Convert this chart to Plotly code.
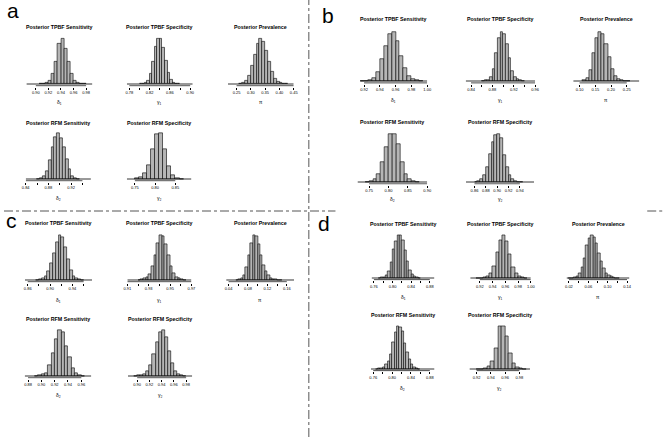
import plotly.graph_objects as go

FIG_W, FIG_H = 669, 437

# ---------------- DATA (relative bar heights) ----------------
TITLES = ["Posterior TPBF Sensitivity", "Posterior TPBF Specificity", "Posterior Prevalence",
          "Posterior RFM Sensitivity", "Posterior RFM Specificity"]
XLABELS = ["δ₁", "γ₁", "π", "δ₂", "γ₂"]

# Panel a
A_D1_COUNTS = [0.5, 1, 3, 8, 22, 50, 88, 100, 78, 48, 22, 8, 3, 1, 0.3]
A_D1_BINS = (0.885, 0.905, 0.005, 0.99)          # (first break, first listed bin, width, last break)
A_D1_TICKS = [0.90, 0.92, 0.94, 0.96, 0.98]
A_D1_MINOR = []

A_G1_COUNTS = [0.5, 1, 3, 8, 22, 50, 82, 100, 100, 80, 52, 24, 9, 3, 1, 0.3]
A_G1_BINS = (0.775, 0.800, 0.005, 0.905)
A_G1_TICKS = [0.78, 0.82, 0.86, 0.90]
A_G1_MINOR = [0.80, 0.84, 0.88]

A_PI_COUNTS = [1, 3, 8, 18, 40, 64, 88, 100, 94, 74, 50, 27, 12, 5, 2, 0.5, 0.2]
A_PI_BINS = (0.22, 0.26, 0.01, 0.45)
A_PI_TICKS = [0.25, 0.30, 0.35, 0.40, 0.45]
A_PI_MINOR = []

A_D2_COUNTS = [0.7, 2, 7, 18, 41, 70, 92, 100, 89, 70, 44, 22, 7, 2, 0.7]
A_D2_BINS = (0.84, 0.86, 0.005, 0.955)
A_D2_TICKS = [0.84, 0.88, 0.92]
A_D2_MINOR = [0.86, 0.90, 0.94]

A_G2_COUNTS = [2, 5, 12, 30, 65, 98, 100, 65, 27, 9, 2, 0.5]
A_G2_BINS = (0.73, 0.75, 0.01, 0.89)
A_G2_TICKS = [0.75, 0.80, 0.85]
A_G2_MINOR = []

# Panel b
B_D1_COUNTS = [0.2, 0.5, 2, 7, 19, 44, 71, 95, 100, 81, 51, 26, 10, 3, 1, 0.3]
B_D1_BINS = (0.915, 0.915, 0.005, 1.00)
B_D1_TICKS = [0.92, 0.94, 0.96, 0.98, 1.00]
B_D1_MINOR = []

B_G1_COUNTS = [0.3, 1, 2, 8, 24, 58, 88, 100, 95, 75, 46, 20, 8, 3, 1, 0.3]
B_G1_BINS = (0.83, 0.86, 0.005, 0.96)
B_G1_TICKS = [0.84, 0.88, 0.92, 0.96]
B_G1_MINOR = [0.86, 0.90, 0.94]

B_PI_COUNTS = [1, 6, 22, 58, 87, 100, 96, 75, 49, 24, 10, 5, 2, 0.5, 0.2]
B_PI_BINS = (0.08, 0.11, 0.01, 0.29)
B_PI_TICKS = [0.10, 0.15, 0.20, 0.25]
B_PI_MINOR = []

B_D2_COUNTS = [0.5, 2, 7, 17, 42, 73, 100, 100, 80, 42, 17, 6, 2, 0.7]
B_D2_BINS = (0.72, 0.74, 0.01, 0.90)
B_D2_TICKS = [0.75, 0.80, 0.85, 0.90]
B_D2_MINOR = []

B_G2_COUNTS = [0.5, 2, 6, 15, 31, 59, 84, 98, 100, 91, 56, 31, 14, 6, 2, 0.7, 0.2]
B_G2_BINS = (0.845, 0.86, 0.005, 0.965)
B_G2_TICKS = [0.86, 0.88, 0.90, 0.92, 0.94]
B_G2_MINOR = []

# Panel c
C_D1_COUNTS = [0.3, 1, 3, 8, 20, 38, 60, 85, 100, 96, 72, 46, 22, 9, 3, 1, 0.3]
C_D1_BINS = (0.855, 0.875, 0.005, 0.975)
C_D1_TICKS = [0.86, 0.90, 0.94]
C_D1_MINOR = [0.88, 0.92, 0.96]

C_G1_COUNTS = [0.3, 1, 3, 7, 14, 30, 55, 82, 100, 97, 80, 55, 31, 15, 7, 3, 1, 0.3]
C_G1_BINS = (0.91, 0.92, 0.0025, 0.97)
C_G1_TICKS = [0.91, 0.93, 0.95, 0.97]
C_G1_MINOR = [0.92, 0.94, 0.96]

C_PI_COUNTS = [0.5, 1, 4, 11, 28, 55, 82, 100, 97, 80, 55, 33, 19, 10, 5, 2, 1, 0.5, 0.2]
C_PI_BINS = (0.035, 0.055, 0.005, 0.175)
C_PI_TICKS = [0.04, 0.08, 0.12, 0.16]
C_PI_MINOR = [0.06, 0.10, 0.14]

C_D2_COUNTS = [0.3, 1, 3, 7, 23, 49, 80, 100, 96, 64, 42, 18, 7, 2, 0.5]
C_D2_BINS = (0.875, 0.89, 0.005, 0.975)
C_D2_TICKS = [0.88, 0.90, 0.92, 0.94, 0.96]
C_D2_MINOR = []

C_G2_COUNTS = [0.3, 1, 2, 4, 10, 23, 47, 73, 95, 100, 85, 53, 27, 10, 3, 1, 0.3]
C_G2_BINS = (0.885, 0.895, 0.005, 0.99)
C_G2_TICKS = [0.90, 0.92, 0.94, 0.96, 0.98]
C_G2_MINOR = []

# Panel d
D_D1_COUNTS = [0.5, 1, 2, 6, 15, 36, 66, 86, 100, 100, 88, 65, 38, 19, 8, 4, 1.5, 0.5]
D_D1_BINS = (0.755, 0.77, 0.005, 0.89)
D_D1_TICKS = [0.76, 0.80, 0.84, 0.88]
D_D1_MINOR = [0.78, 0.82, 0.86]

D_G1_COUNTS = [0.3, 0.5, 1, 3, 10, 28, 60, 88, 100, 85, 55, 25, 10, 3, 1, 0.3]
D_G1_BINS = (0.905, 0.915, 0.005, 1.00)
D_G1_TICKS = [0.92, 0.94, 0.96, 0.98, 1.00]
D_G1_MINOR = []

D_PI_COUNTS = [0.2, 0.5, 2, 5, 12, 25, 45, 75, 92, 100, 95, 80, 58, 38, 22, 12, 6, 3, 1.5, 0.5, 0.2]
D_PI_BINS = (0.015, 0.02, 0.005, 0.145)
D_PI_TICKS = [0.02, 0.06, 0.10, 0.14]
D_PI_MINOR = [0.04, 0.08, 0.12]

D_D2_COUNTS = [0.5, 1, 2, 5, 10, 18, 35, 62, 85, 100, 98, 88, 60, 38, 22, 10, 4, 1.5, 0.5]
D_D2_BINS = (0.755, 0.765, 0.005, 0.89)
D_D2_TICKS = [0.76, 0.80, 0.84, 0.88]
D_D2_MINOR = [0.78, 0.82, 0.86]

D_G2_COUNTS = [0.2, 0.5, 2, 6, 18, 48, 100, 100, 75, 37, 14, 4, 1, 0.3]
D_G2_BINS = (0.91, 0.92, 0.005, 0.995)
D_G2_TICKS = [0.92, 0.94, 0.96, 0.98]
D_G2_MINOR = []

PANEL_LETTERS = ["a", "b", "c", "d"]

# ---------------- LAYOUT (pixel geometry) ----------------
# per panel row: (title_y, peak_y, baseline_y, xlabel_y)
ROWS = {
    "a": [(27, 38.5, 84, 102), (123, 133, 179, 198)],
    "b": [(19, 32, 81, 100), (122, 134, 182, 199)],
    "c": [(223, 235, 280, 300), (319, 330, 376, 395)],
    "d": [(224, 235, 278, 297), (315, 326, 369, 388)],
}
LETTER_POS = {"a": (9, 10.5), "b": (328, 16), "c": (7.5, 220), "d": (324, 223)}

HISTS = [
    ("a", 0, 0, (22.7, 89.6), A_D1_COUNTS, A_D1_BINS, A_D1_TICKS, A_D1_MINOR),
    ("a", 0, 1, (124.5, 191.3), A_G1_COUNTS, A_G1_BINS, A_G1_TICKS, A_G1_MINOR),
    ("a", 0, 2, (227, 293.7), A_PI_COUNTS, A_PI_BINS, A_PI_TICKS, A_PI_MINOR),
    ("a", 1, 3, (22, 88.1), A_D2_COUNTS, A_D2_BINS, A_D2_TICKS, A_D2_MINOR),
    ("a", 1, 4, (124.5, 190), A_G2_COUNTS, A_G2_BINS, A_G2_TICKS, A_G2_MINOR),
    ("b", 0, 0, (361, 429), B_D1_COUNTS, B_D1_BINS, B_D1_TICKS, B_D1_MINOR),
    ("b", 0, 1, (468, 538.4), B_G1_COUNTS, B_G1_BINS, B_G1_TICKS, B_G1_MINOR),
    ("b", 0, 2, (577, 644), B_PI_COUNTS, B_PI_BINS, B_PI_TICKS, B_PI_MINOR),
    ("b", 1, 3, (358.3, 429), B_D2_COUNTS, B_D2_BINS, B_D2_TICKS, B_D2_MINOR),
    ("b", 1, 4, (468.3, 537.3), B_G2_COUNTS, B_G2_BINS, B_G2_TICKS, B_G2_MINOR),
    ("c", 0, 0, (21.2, 89.2), C_D1_COUNTS, C_D1_BINS, C_D1_TICKS, C_D1_MINOR),
    ("c", 0, 1, (125, 190), C_G1_COUNTS, C_G1_BINS, C_G1_TICKS, C_G1_MINOR),
    ("c", 0, 2, (225.2, 294), C_PI_COUNTS, C_PI_BINS, C_PI_TICKS, C_PI_MINOR),
    ("c", 1, 3, (21, 88.5), C_D2_COUNTS, C_D2_BINS, C_D2_TICKS, C_D2_MINOR),
    ("c", 1, 4, (125.7, 190.8), C_G2_COUNTS, C_G2_BINS, C_G2_TICKS, C_G2_MINOR),
    ("d", 0, 0, (372.6, 436.3), D_D1_COUNTS, D_D1_BINS, D_D1_TICKS, D_D1_MINOR),
    ("d", 0, 1, (472.6, 534), D_G1_COUNTS, D_G1_BINS, D_G1_TICKS, D_G1_MINOR),
    ("d", 0, 2, (570.2, 634), D_PI_COUNTS, D_PI_BINS, D_PI_TICKS, D_PI_MINOR),
    ("d", 1, 3, (371.9, 436.4), D_D2_COUNTS, D_D2_BINS, D_D2_TICKS, D_D2_MINOR),
    ("d", 1, 4, (471.8, 533.2), D_G2_COUNTS, D_G2_BINS, D_G2_TICKS, D_G2_MINOR),
]

FONT = "Liberation Sans, DejaVu Sans, Arial, sans-serif"
FILL = "#b5b5b5"
LW = 0.6

fig = go.Figure()
layout = {}
annotations = []

for i, (panel, row, kind, (px0, px1), counts, bins, ticks, minor) in enumerate(HISTS, start=1):
    lo, first, w, hi = bins
    title_y, peak_y, base_y, xlab_y = ROWS[panel][row]
    M = max(counts)
    Hb = base_y - peak_y                  # pixel height of the tallest bar
    top = peak_y - 0.04 * Hb
    axis_y_px = base_y + 0.04 * Hb
    bottom = axis_y_px + 0.7
    ymin = -(0.04 * M + 0.7 * M / Hb)
    ymax = 1.04 * M

    xa, ya = f"x{i}", f"y{i}"
    centers = [first + w * (k + 0.5) for k in range(len(counts))]
    all_ticks = sorted(ticks + minor)

    fig.add_trace(go.Bar(
        x=centers, y=counts, width=w, xaxis=xa, yaxis=ya,
        marker=dict(color=FILL, line=dict(color="black", width=LW)),
        showlegend=False, hoverinfo="skip"))
    # zero-height bins along the whole break range (as R's hist draws them)
    fig.add_trace(go.Scatter(
        x=[lo, hi], y=[0, 0], mode="lines", xaxis=xa, yaxis=ya,
        line=dict(color="black", width=0.8), showlegend=False, hoverinfo="skip"))
    # axis line from first to last tick
    fig.add_trace(go.Scatter(
        x=[all_ticks[0], all_ticks[-1]], y=[-0.04 * M, -0.04 * M], mode="lines", xaxis=xa, yaxis=ya,
        line=dict(color="black", width=0.8), showlegend=False, hoverinfo="skip"))

    sfx = "" if i == 1 else str(i)
    xaxis = dict(
        domain=[px0 / FIG_W, px1 / FIG_W], range=[lo, hi], anchor=ya,
        tickmode="array", tickvals=ticks, ticktext=[f"{t:.2f}" for t in ticks],
        ticks="outside", ticklen=2, tickwidth=0.8, tickcolor="black",
        tickfont=dict(family=FONT, size=4, color="black"),
        showgrid=False, zeroline=False, showline=False, fixedrange=True)
    if minor:
        xaxis["minor"] = dict(tickmode="array", tickvals=minor, ticks="outside", ticklen=2,
                              tickwidth=0.8, tickcolor="black", showgrid=False)
    layout[f"xaxis{sfx}"] = xaxis
    layout[f"yaxis{sfx}"] = dict(
        domain=[1 - bottom / FIG_H, 1 - top / FIG_H], range=[ymin, ymax], anchor=xa,
        visible=False, fixedrange=True)

    cx = (px0 + px1) / 2 / FIG_W
    annotations.append(dict(
        text=TITLES[kind], x=cx, y=1 - title_y / FIG_H, xref="paper", yref="paper",
        xanchor="center", yanchor="middle", showarrow=False,
        font=dict(family=FONT, size=5.3, color="black", weight="bold")))
    annotations.append(dict(
        text=XLABELS[kind], x=cx, y=1 - xlab_y / FIG_H, xref="paper", yref="paper",
        xanchor="center", yanchor="middle", showarrow=False,
        font=dict(family=FONT, size=5, color="black")))

for letter in PANEL_LETTERS:
    lx, ly = LETTER_POS[letter]
    annotations.append(dict(
        text=letter, x=lx / FIG_W, y=1 - ly / FIG_H, xref="paper", yref="paper",
        xanchor="center", yanchor="middle", showarrow=False,
        font=dict(family=FONT, size=21, color="black")))

DASH = dict(color="#555555", width=1, dash="dashdot")
shapes = [
    dict(type="line", xref="paper", yref="paper", x0=309 / FIG_W, x1=309 / FIG_W, y0=0, y1=1, line=DASH),
    dict(type="line", xref="paper", yref="paper", x0=0, x1=336 / FIG_W,
         y0=1 - 211 / FIG_H, y1=1 - 211 / FIG_H, line=DASH),
    dict(type="line", xref="paper", yref="paper", x0=652 / FIG_W, x1=1,
         y0=1 - 211 / FIG_H, y1=1 - 211 / FIG_H, line=DASH),
]

fig.update_layout(
    width=FIG_W, height=FIG_H, margin=dict(l=0, r=0, t=0, b=0),
    paper_bgcolor="white", plot_bgcolor="rgba(0,0,0,0)",
    bargap=0, showlegend=False, annotations=annotations, shapes=shapes,
    **layout)

fig.write_html("out.html", config={"displayModeBar": False},
               post_script="document.body.style.margin='0';document.body.style.overflow='hidden';")
